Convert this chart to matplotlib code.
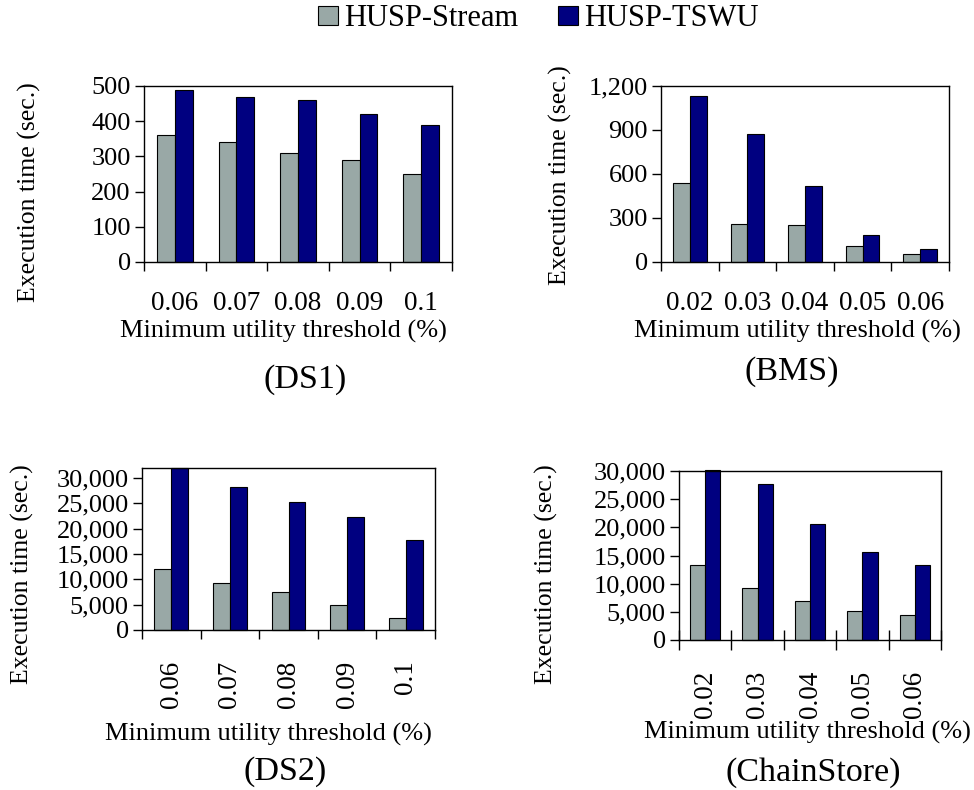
import numpy as np
import matplotlib
matplotlib.use("Agg")
import matplotlib.pyplot as plt
from matplotlib.ticker import FuncFormatter, FixedLocator, NullFormatter

plt.rcParams['font.family'] = ['Liberation Serif', 'DejaVu Serif']

series_names = ['HUSP-Stream', 'HUSP-TSWU']
series_colors = ['#99a8a6', '#000080']

# execution times (sec.) per minimum utility threshold (%)
thresholds_ds1 = ['0.06', '0.07', '0.08', '0.09', '0.1']
stream_ds1 = [360, 340, 310, 290, 250]
tswu_ds1 = [490, 470, 460, 420, 390]

thresholds_bms = ['0.02', '0.03', '0.04', '0.05', '0.06']
stream_bms = [540, 260, 250, 110, 55]
tswu_bms = [1130, 875, 515, 185, 90]

thresholds_ds2 = ['0.06', '0.07', '0.08', '0.09', '0.1']
stream_ds2 = [12100, 9300, 7500, 5000, 2300]
tswu_ds2 = [32000, 28300, 25200, 22400, 17700]

thresholds_cs = ['0.02', '0.03', '0.04', '0.05', '0.06']
stream_cs = [13300, 9250, 6900, 5200, 4400]
tswu_cs = [30200, 27700, 20600, 15600, 13300]

W, H = 974, 790
fig = plt.figure(figsize=(W / 100, H / 100), dpi=100)


def px_box(left, top, right, bottom):
    return [left / W, 1 - bottom / H, (right - left) / W, (bottom - top) / H]


panels = [
    # name, labels, stream, tswu, axes box, ymax, ystep, rotated,
    # ylabel xy, xlabel x (axes frac), title xy
    ('(DS1)', thresholds_ds1, stream_ds1, tswu_ds1, px_box(144, 86, 452, 262),
     500, 100, False, (41, 192), 0.453, (305, 380)),
    ('(BMS)', thresholds_bms, stream_bms, tswu_bms, px_box(661, 86, 949, 262),
     1200, 300, False, (572, 175), 0.474, (792, 372)),
    ('(DS2)', thresholds_ds2, stream_ds2, tswu_ds2, px_box(142, 468, 435, 630),
     32000, 5000, True, (34, 574), 0.433, (285, 772)),
    ('(ChainStore)', thresholds_cs, stream_cs, tswu_cs, px_box(679, 471, 941, 640),
     30000, 5000, True, (558, 574), 0.492, (813, 773)),
]

bw = 0.29
for name, labels, s_vals, t_vals, box, ymax, ystep, rotated, ylab_xy, xlab_x, title_xy in panels:
    ax = fig.add_axes(box)
    x = np.arange(len(labels))
    ax.bar(x - bw / 2, s_vals, bw, color=series_colors[0], edgecolor='black',
           linewidth=0.8, label=series_names[0], clip_on=False)
    ax.bar(x + bw / 2, t_vals, bw, color=series_colors[1], edgecolor='black',
           linewidth=0.8, label=series_names[1], clip_on=False)
    ax.set_xlim(-0.5, len(labels) - 0.5)
    ax.set_ylim(0, ymax)
    ax.set_yticks(np.arange(0, ymax + 1, ystep))
    ax.yaxis.set_major_formatter(FuncFormatter(lambda v, p: '{:,.0f}'.format(v)))
    ax.tick_params(axis='y', direction='out', length=6.5, width=1, labelsize=19, pad=3)

    # boundary ticks between categories, labels centred under each group
    ax.xaxis.set_major_locator(FixedLocator(np.arange(-0.5, len(labels), 1.0)))
    ax.xaxis.set_major_formatter(NullFormatter())
    ax.xaxis.set_minor_locator(FixedLocator(x))
    ax.set_xticklabels(labels, minor=True)
    if name == '(ChainStore)':
        ax.tick_params(axis='x', which='major', direction='inout', length=14, width=1)
    else:
        ax.tick_params(axis='x', which='major', direction='out', length=6.5, width=1)
    if rotated:
        ax.tick_params(axis='x', which='minor', length=0, labelsize=19.5, pad=22,
                       labelrotation=90)
        ax.set_xlabel('Minimum utility threshold (%)', fontsize=19,
                      labelpad=11 if name == '(DS2)' else 2)
    else:
        ax.tick_params(axis='x', which='minor', length=0, labelsize=19.5, pad=21)
        ax.set_xlabel('Minimum utility threshold (%)', fontsize=19, labelpad=3)
    ax.xaxis.label.set_x(xlab_x)

    for sp in ax.spines.values():
        sp.set_linewidth(1)
        sp.set_color('black')

    ax.set_ylabel('Execution time (sec.)', fontsize=18.5)
    ax.yaxis.set_label_coords(ylab_xy[0] / W, 1 - ylab_xy[1] / H, transform=fig.transFigure)
    fig.text(title_xy[0] / W, 1 - title_xy[1] / H, name, fontsize=24.5,
             ha='center', va='center')

    if name == '(DS1)':
        handles, names = ax.get_legend_handles_labels()

fig.legend(handles, names, loc='center', bbox_to_anchor=(538 / W, 1 - 19 / H), ncol=2,
           frameon=False, fontsize=22, handlelength=0.66, handleheight=0.6,
           handletextpad=0.2, columnspacing=1.3, borderaxespad=0)

fig.savefig('out.png', dpi=100)
